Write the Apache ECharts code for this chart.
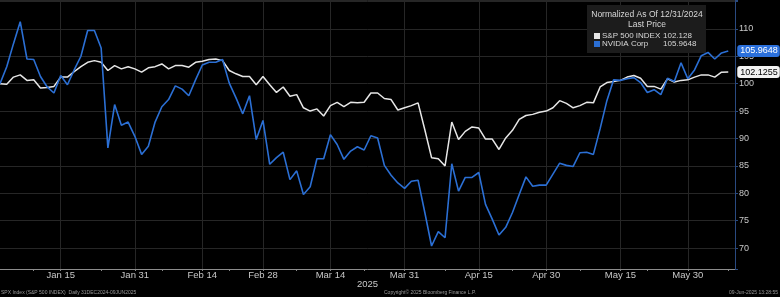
<!DOCTYPE html>
<html>
<head>
<meta charset="utf-8">
<script src="https://cdn.jsdelivr.net/npm/echarts@6/dist/echarts.min.js"></script>
<style>
html,body{margin:0;padding:0;background:#000;}
#main{width:780px;height:297px;}
</style>
</head>
<body>
<div id="main"></div>
<script>
// trading days, normalized to 12/31/2024 = 100 (last entry is empty padding)
var dates = ['Dec 31',
  'Jan 2','Jan 3','Jan 6','Jan 7','Jan 8','Jan 10','Jan 13','Jan 14','Jan 15','Jan 16','Jan 17','Jan 21','Jan 22','Jan 23','Jan 24','Jan 27','Jan 28','Jan 29','Jan 30','Jan 31',
  'Feb 3','Feb 4','Feb 5','Feb 6','Feb 7','Feb 10','Feb 11','Feb 12','Feb 13','Feb 14','Feb 18','Feb 19','Feb 20','Feb 21','Feb 24','Feb 25','Feb 26','Feb 27','Feb 28',
  'Mar 3','Mar 4','Mar 5','Mar 6','Mar 7','Mar 10','Mar 11','Mar 12','Mar 13','Mar 14','Mar 17','Mar 18','Mar 19','Mar 20','Mar 21','Mar 24','Mar 25','Mar 26','Mar 27','Mar 28','Mar 31',
  'Apr 1','Apr 2','Apr 3','Apr 4','Apr 7','Apr 8','Apr 9','Apr 10','Apr 11','Apr 14','Apr 15','Apr 16','Apr 17','Apr 21','Apr 22','Apr 23','Apr 24','Apr 25','Apr 28','Apr 29','Apr 30',
  'May 1','May 2','May 5','May 6','May 7','May 8','May 9','May 12','May 13','May 14','May 15','May 16','May 19','May 20','May 21','May 22','May 23','May 27','May 28','May 29','May 30',
  'Jun 2','Jun 3','Jun 4','Jun 5','Jun 6','Jun 9',''];

var spx = [100, 99.9, 101.2, 101.6, 100.6, 100.7, 99.2, 99.3, 99.5, 101.2, 101.2, 102.2, 103.1, 103.9, 104.2, 103.9, 102.4, 103.3, 102.7, 103.1, 102.7,
  102.1, 102.9, 103.1, 103.6, 102.7, 103.3, 103.3, 103.0, 103.9, 104.1,
  104.4, 104.5, 104.2, 102.4, 101.8, 101.3, 101.3, 99.8, 101.3,
  99.8, 98.4, 99.4, 97.7, 98.0, 95.6, 95.0, 95.4, 94.1, 96.0, 96.6, 95.8, 96.6, 96.5, 96.6, 98.3, 98.3, 97.3, 97.1, 95.2, 95.6,
  96.0, 96.5, 91.6, 86.5, 86.3, 85.0, 93.0, 89.8, 91.3, 92.1, 91.9, 89.9, 89.9, 88.0, 90.1, 91.5, 93.5, 94.2, 94.4, 94.8, 95.0,
  95.6, 96.9, 96.4, 95.6, 96.0, 96.6, 96.5, 99.4, 100.2, 100.4, 100.6, 101.2, 101.5, 101.0, 99.5, 99.5, 99.0, 100.9, 100.3, 100.6, 100.7,
  101.2, 101.6, 101.6, 101.2, 102.1, 102.1255];

var nvda = [100, 103.1, 107.3, 111.3, 104.5, 104.4, 101.3, 99.4, 98.3, 101.5, 99.8, 102.5, 105.0, 109.7, 109.7, 106.5, 88.3, 96.2, 92.4, 93.0, 90.4,
  87.1, 88.6, 93.0, 95.8, 97.1, 99.6, 99.0, 97.8, 100.7, 103.4,
  103.9, 103.9, 104.4, 100.1, 97.4, 94.5, 97.8, 89.8, 93.3,
  85.3, 86.5, 87.5, 82.5, 84.1, 79.8, 81.2, 86.3, 86.3, 90.7, 88.9, 86.2, 87.7, 88.5, 87.9, 90.5, 90.1, 85.1, 83.3, 81.9, 80.9,
  82.2, 82.4, 76.5, 70.4, 73.0, 71.9, 85.4, 80.4, 82.9, 82.9, 83.8, 78.0, 75.3, 72.4, 73.8, 76.5, 79.8, 83.0, 81.3, 81.5, 81.5,
  83.5, 85.5, 85.1, 84.9, 87.4, 87.5, 87.1, 91.8, 96.9, 100.7, 100.6, 100.9, 101.1, 100.2, 98.4, 98.9, 98.0, 101.0, 100.4, 103.8, 100.9,
  102.5, 105.1, 105.7, 104.5, 105.6, 105.9648];

var names = ['S&P 500 INDEX', 'NVIDIA Corp'];
var legendValues = ['102.128', '105.9648'];
var labelDates = ['Jan 15','Jan 31','Feb 14','Feb 28','Mar 14','Mar 31','Apr 15','Apr 30','May 15','May 30'];
var minorTickDates = ['Jan 8','Jan 24','Feb 6','Feb 21','Mar 7','Mar 21','Apr 8','Apr 23','May 7','May 21','Jun 9'];

var font = '"Liberation Sans", Arial, sans-serif';
var gridColor = '#262626';

var myChart = echarts.init(document.getElementById('main'));
var option = {
    backgroundColor: '#000',
    animation: false,
    textStyle: {fontFamily: font},
    grid: {left: 0, right: 45, top: 0, bottom: 28, containLabel: false, outerBoundsMode: 'none'},
    legend: {
        orient: 'vertical',
        left: 589,
        top: 27,
        icon: 'rect',
        itemWidth: 6,
        itemHeight: 6,
        itemGap: 0,
        selectedMode: false,
        data: names,
        formatter: function (name) {
            return '{n|' + name + '}{v|' + legendValues[names.indexOf(name)] + '}';
        },
        textStyle: {
            color: '#d8d8d8',
            fontSize: 8,
            padding: [0, 0, 0, -3],
            rich: {
                n: {width: 61, fontSize: 8, color: '#d8d8d8'},
                v: {fontSize: 8, color: '#d8d8d8'}
            }
        }
    },
    xAxis: {
        type: 'category',
        data: dates,
        boundaryGap: false,
        name: '2025',
        nameLocation: 'middle',
        nameGap: 10,
        nameMoveOverlap: false,
        nameTextStyle: {color: '#c8c8c8', fontSize: 9.5},
        axisLine: {lineStyle: {color: '#8c8c8c'}},
        axisTick: {
            show: true,
            length: 2,
            interval: function (i, v) { return labelDates.indexOf(v) >= 0 || minorTickDates.indexOf(v) >= 0; },
            lineStyle: {color: '#8c8c8c'}
        },
        axisLabel: {
            interval: function (i, v) { return labelDates.indexOf(v) >= 0; },
            color: '#c8c8c8',
            fontSize: 9.5,
            margin: 1
        },
        splitLine: {
            show: true,
            interval: function (i, v) { return labelDates.indexOf(v) >= 0; },
            lineStyle: {color: gridColor}
        }
    },
    yAxis: {
        type: 'value',
        position: 'right',
        min: 66.2,
        max: 115.26,
        splitNumber: 10,
        axisLine: {show: true, lineStyle: {color: '#2a4a80'}},
        axisTick: {show: true, length: 3, lineStyle: {color: '#2a4a80'}},
        axisLabel: {
            color: '#c8c8c8',
            fontSize: 9,
            margin: 4,
            formatter: function (v) {
                return (v % 5 === 0 && v >= 70 && v <= 110) ? v : '';
            }
        },
        splitLine: {lineStyle: {color: gridColor}}
    },
    graphic: [
        {type: 'rect', z: 3, shape: {x: 587, y: 5, width: 119, height: 48}, style: {fill: '#1c1c1c'}},
        {type: 'text', z: 5, x: 647, y: 10, style: {text: 'Normalized As Of 12/31/2024', textAlign: 'center', fill: '#d8d8d8', font: '8.5px ' + font}},
        {type: 'text', z: 5, x: 647, y: 20, style: {text: 'Last Price', textAlign: 'center', fill: '#d8d8d8', font: '8.5px ' + font}},
        {type: 'text', z: 5, x: 1, y: 290, style: {text: 'SPX Index (S&P 500 INDEX)  Daily 31DEC2024-09JUN2025', fill: '#9a9a9a', font: '5px ' + font}},
        {type: 'text', z: 5, x: 384, y: 290, style: {text: 'Copyright\u00a9 2025 Bloomberg Finance L.P.', fill: '#9a9a9a', font: '5px ' + font}},
        {type: 'text', z: 5, x: 778, y: 290, style: {text: '09-Jun-2025 13:28:55', textAlign: 'right', fill: '#9a9a9a', font: '5px ' + font}}
    ],
    series: [
        {
            name: names[0],
            type: 'line',
            data: spx,
            showSymbol: false,
            color: '#e6e6e6',
            lineStyle: {width: 1.5, color: '#e6e6e6'},
            endLabel: {
                show: true,
                distance: 9,
                formatter: function (p) { return p.value; },
                color: '#000',
                backgroundColor: '#f2f2f2',
                padding: [2, 2, 1, 3],
                borderRadius: 3,
                fontSize: 9
            }
        },
        {
            name: names[1],
            type: 'line',
            data: nvda,
            showSymbol: false,
            color: '#2b6fd4',
            lineStyle: {width: 1.6, color: '#2b6fd4'},
            endLabel: {
                show: true,
                distance: 9,
                formatter: function (p) { return p.value; },
                color: '#fff',
                backgroundColor: '#2b70dc',
                padding: [2, 2, 1, 3],
                borderRadius: 3,
                fontSize: 9
            }
        }
    ]
};
myChart.setOption(option);
</script>
</body>
</html>
